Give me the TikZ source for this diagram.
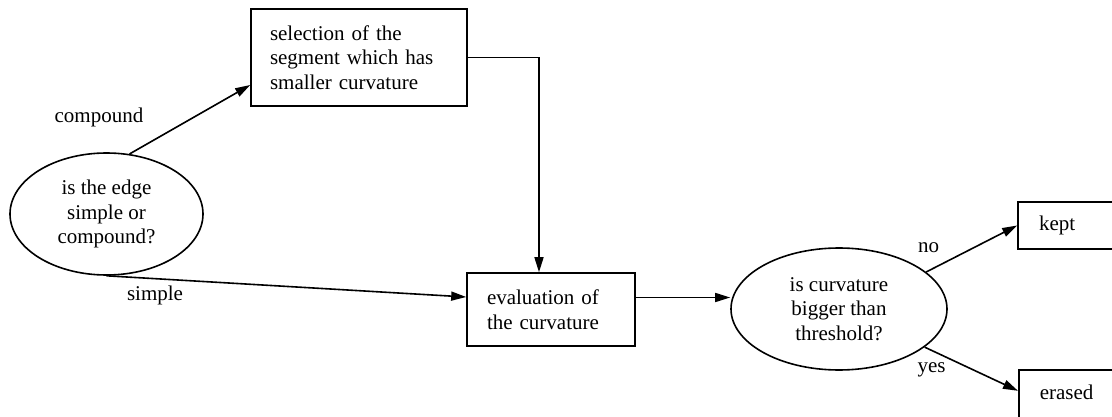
\documentclass[tikz,border=0pt]{standalone}
\usepackage{fontspec}
\setmainfont{Liberation Serif}
\usetikzlibrary{arrows.meta,shapes.geometric}
\begin{document}
\begin{tikzpicture}[x=1pt,y=-1pt, line width=1.6pt,
  >={Triangle[length=15pt,width=9pt]},
  every node/.style={font=\fontsize{21}{24.5}\selectfont, inner sep=0pt},
  box/.style={draw, rectangle, align=left, anchor=center, inner ysep=0pt},
  oval/.style={draw, ellipse, align=center, inner sep=0pt},
  lbl/.style={anchor=base}]
\clip (0,0) rectangle (1112,417);
\node[oval, minimum width=193pt, minimum height=122pt] (ell1) at (106.5,214) {is the edge\\simple or\\compound?};
\node[box, inner xsep=19pt, text width=178pt, minimum height=97pt] (sel) at (359,57.5) {selection of the\\segment which has\\smaller curvature};
\node[box, inner xsep=20pt, text width=128pt, minimum height=73pt] (eval) at (551,309.5) {evaluation of\\the curvature};
\node[oval, minimum width=216pt, minimum height=122pt] (ell2) at (839,309) {is curvature\\bigger than\\threshold?};
\node[box, inner xsep=21pt, text width=88pt, minimum height=47pt] (kept) at (1083,225.5) {kept};
\node[box, inner xsep=21pt, text width=88pt, text height=30pt, text depth=30pt, anchor=north west] (erased) at (1018,369) {erased};
\node[lbl] (lcomp) at (99,123) {compound};
\node[lbl] (lsimp) at (155,300) {simple};
\node[lbl] (lno) at (928.5,252) {no};
\node[lbl] (lyes) at (931.5,372) {yes};
\coordinate (e1) at ([yshift=12pt]eval.east);
\draw[->] (ell1.69) -- ([yshift=-27.5pt]sel.west);
\draw[->] (sel.east) -| ([xshift=-12pt]eval.north);
\draw[->] (ell1.south) -- ([yshift=12.5pt]eval.west);
\draw[->] (e1) -- (e1 -| ell2.west);
\draw[->] (ell2.23) -- (kept.west);
\draw[->] (ell2.-24) -- ([yshift=9pt]erased.west);
\end{tikzpicture}
\end{document}
